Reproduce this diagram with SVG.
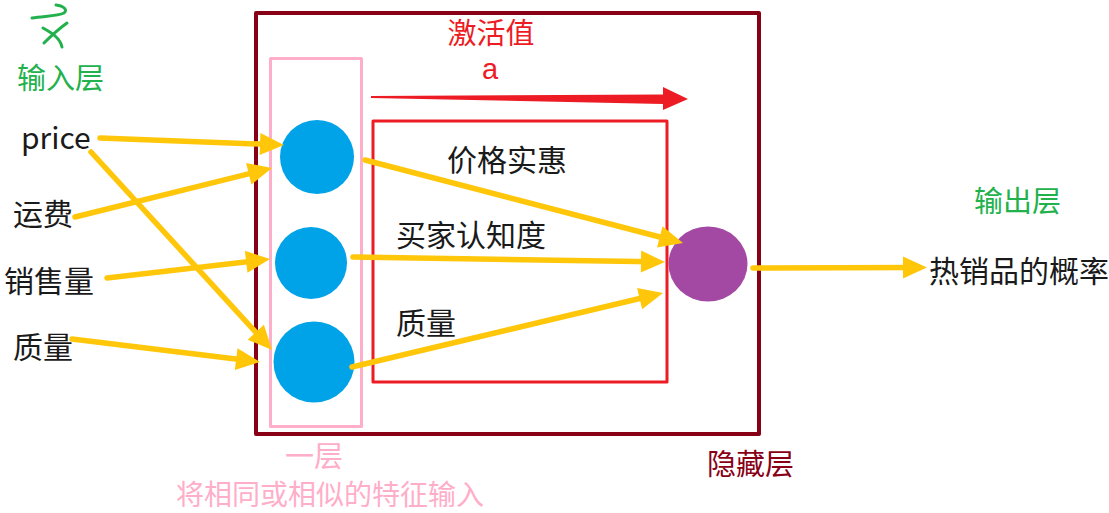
<svg xmlns="http://www.w3.org/2000/svg" width="1109" height="513" viewBox="0 0 1109 513">
<style>
text{font-family:"Noto Sans CJK SC","Noto Sans",sans-serif;}
.blk{fill:#1a1a1a;font-size:30px;}
.grn{fill:#22B14C;font-size:29px;}
.red{fill:#ED1C24;font-size:29px;}
.dred{fill:#880015;font-size:29px;}
.pink{fill:#FFAEC9;font-size:29px;}
.conn{stroke:#FFC60A;stroke-width:5.5;fill:none;stroke-linecap:round;marker-end:url(#ah);}
</style>
<defs>
<marker id="ah" markerUnits="userSpaceOnUse" markerWidth="25" markerHeight="23" refX="12" refY="11" orient="auto" overflow="visible">
<path d="M0,0 L24,11 L0,22 Z" fill="#FFC60A"/>
</marker>
</defs>
<rect width="1109" height="513" fill="#ffffff"/>

<g id="hidden-layer">
<rect x="256" y="13" width="503" height="421" fill="none" stroke="#880015" stroke-width="4" stroke-linejoin="round"/>
<text class="dred" x="707" y="475">隐藏层</text>
</g>
<g id="layer-one">
<rect x="270.5" y="58.5" width="91" height="368" fill="none" stroke="#FFAEC9" stroke-width="3" stroke-linejoin="round"/>
<text class="pink" x="285" y="467">一层</text>
<text class="pink" x="176" y="505" style="font-size:28px">将相同或相似的特征输入</text>
</g>
<g id="feature-box">
<rect x="373" y="121" width="294" height="261" fill="none" stroke="#ED1C24" stroke-width="3" stroke-linejoin="round"/>
</g>
<g id="activation">
<text class="red" x="491" y="44" text-anchor="middle">激活值</text>
<text class="red" x="490" y="79" text-anchor="middle" style="font-family:'Liberation Sans',Arial,sans-serif">a</text>
<path d="M371,96 L663,94.5 L663,87 L688,99 L663,110 L663,104 L371,98 Z" fill="#ED1C24"/>
</g>

<g id="x-mark" fill="none" stroke="#22B14C" stroke-width="3" stroke-linecap="round">
<path d="M32,18 C45,16 58,16 64,13 C68,10 64,6 56,5"/>
<path d="M43,28 C52,33 60,38 62,47"/>
<path d="M44,43 C52,35 60,28 67,23"/>
</g>

<g id="input-label"><text class="grn" x="17" y="89">输入层</text></g>
<g id="in-price"><text class="blk" x="21" y="149">price</text></g>
<g id="in-freight"><text class="blk" x="13" y="225">运费</text></g>
<g id="in-sales"><text class="blk" x="4" y="292">销售量</text></g>
<g id="in-quality"><text class="blk" x="13" y="358">质量</text></g>

<g id="n1"><circle cx="317" cy="157" r="37" fill="#00A2E8"/></g>
<g id="n2"><circle cx="311" cy="263" r="36" fill="#00A2E8"/></g>
<g id="n3"><circle cx="314" cy="362" r="40.5" fill="#00A2E8"/></g>
<g id="out-node"><ellipse cx="708" cy="264" rx="39.5" ry="37.5" fill="#A349A4"/></g>

<g id="feat-labels">
<text class="blk" x="447" y="171">价格实惠</text>
<text class="blk" x="396" y="246">买家认知度</text>
<text class="blk" x="396" y="334">质量</text>
</g>

<g id="output-label"><text class="grn" x="974" y="212">输出层</text></g>
<g id="output"><text class="blk" x="929" y="282">热销品的概率</text></g>

<g id="connectors">
<line class="conn" x1="100" y1="138" x2="272" y2="144.5"/>
<line class="conn" x1="91" y1="152" x2="263.9" y2="341.1"/>
<line class="conn" x1="75" y1="217" x2="260.4" y2="170.9"/>
<line class="conn" x1="107" y1="278" x2="258.1" y2="260.4"/>
<line class="conn" x1="72" y1="339" x2="248.1" y2="360.5"/>
<line class="conn" x1="365" y1="160" x2="671.4" y2="240"/>
<line class="conn" x1="353" y1="257" x2="653" y2="261.8"/>
<line class="conn" x1="352" y1="367" x2="651.3" y2="295.8"/>
<line class="conn" x1="753" y1="268" x2="915" y2="267.5"/>
</g>
</svg>
